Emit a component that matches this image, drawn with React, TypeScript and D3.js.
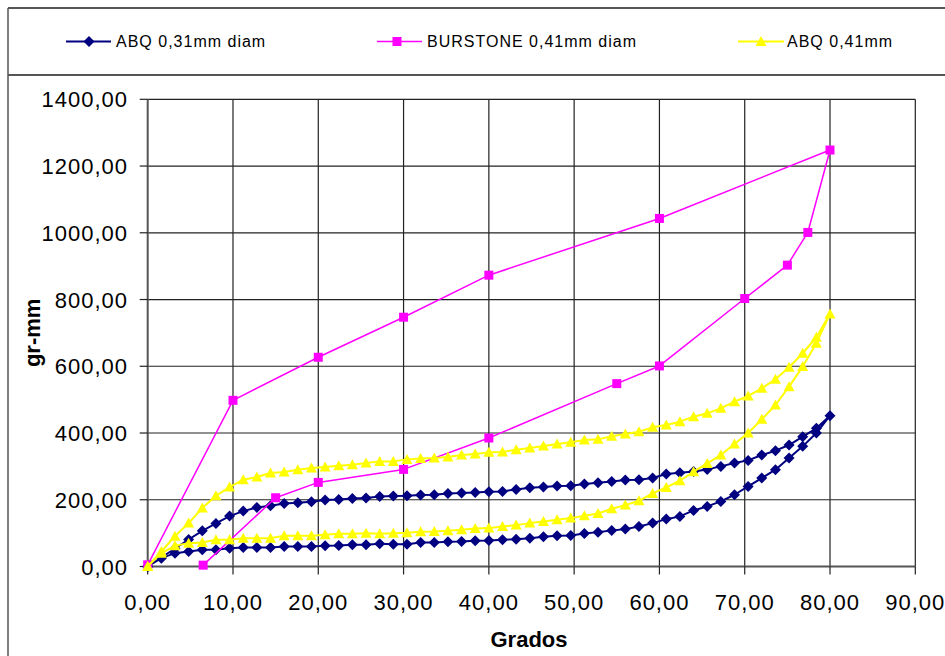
import React from "react";
import * as d3 from "d3";

const angles = [0, 1.6, 3.2, 4.8, 6.4, 8, 9.6, 11.2, 12.8, 14.4, 16, 17.6, 19.2, 20.8, 22.4, 24, 25.6, 27.2, 28.8, 30.4, 32, 33.6, 35.2, 36.8, 38.4, 40, 41.6, 43.2, 44.8, 46.4, 48, 49.6, 51.2, 52.8, 54.4, 56, 57.6, 59.2, 60.8, 62.4, 64, 65.6, 67.2, 68.8, 70.4, 72, 73.6, 75.2, 76.8, 78.4, 80];

const abq31Load = [0, 27, 54, 81, 107, 129, 151, 166, 177, 182, 189, 191, 194, 199, 201, 204, 205, 210, 211, 212, 214, 215, 219, 220, 222, 224, 225, 231, 236, 238, 241, 242, 247, 251, 255, 259, 260, 265, 277, 281, 285, 291, 300, 310, 318, 334, 347, 364, 389, 414, 452];
const abq31Unload = [0, 25, 40, 45, 50, 50, 55, 57, 57, 57, 60, 60, 60, 62, 63, 65, 65, 68, 67, 67, 72, 72, 74, 75, 77, 78, 80, 82, 85, 89, 92, 93, 99, 103, 108, 112, 120, 130, 142, 150, 168, 180, 195, 215, 240, 265, 290, 325, 360, 400, 452];

const abq41Load = [0, 45, 91, 130, 175, 212, 238, 260, 268, 280, 283, 290, 295, 298, 302, 305, 310, 315, 315, 321, 324, 325, 328, 334, 337, 342, 343, 350, 355, 361, 367, 372, 379, 381, 390, 397, 404, 417, 424, 434, 449, 459, 474, 494, 511, 534, 561, 597, 639, 687, 757];
const abq41Unload = [0, 40, 62, 70, 72, 80, 80, 85, 85, 85, 92, 92, 92, 95, 98, 98, 100, 98, 100, 101, 104, 105, 107, 110, 114, 115, 120, 124, 130, 135, 140, 145, 152, 159, 173, 184, 197, 219, 237, 257, 284, 309, 334, 367, 400, 441, 484, 539, 599, 669, 757];

const burstoneX = [0, 10, 20, 30, 40, 60, 80, 77.4, 75, 70, 60, 55, 40, 30, 20, 15, 6.5];
const burstoneY = [5, 498, 627, 747, 873, 1043, 1248, 1001, 903, 803, 601, 548, 385, 291, 252, 206, 4];

const xTicks = [0, 10, 20, 30, 40, 50, 60, 70, 80, 90];
const yTicks = [0, 200, 400, 600, 800, 1000, 1200, 1400];

const legendLabels = ["ABQ 0,31mm diam", "BURSTONE 0,41mm diam", "ABQ 0,41mm"];

const FONT = "Arial, 'Liberation Sans', sans-serif";

const fmt = (v: number) => v.toFixed(2).replace(".", ",");

type Pt = [number, number];

function loop(xs: number[], a: number[], b: number[]): Pt[] {
  const fwd: Pt[] = xs.map((x, i) => [x, a[i]]);
  const back: Pt[] = xs.map((x, i) => [x, b[i]] as Pt).reverse();
  return fwd.concat(back.slice(1));
}

const diamond = "M0,-5.5L5.5,0L0,5.5L-5.5,0Z";
const square = "M-4.5,-4.5H4.5V4.5H-4.5Z";
const triangle = "M0,-5.5L5.5,4.5L-5.5,4.5Z";

export default function App() {
  const x = d3.scaleLinear().domain([0, 90]).range([147.7, 915.3]);
  const y = d3.scaleLinear().domain([0, 1400]).range([566.5, 99.3]);
  const line = d3
    .line<Pt>()
    .x((d) => x(d[0]))
    .y((d) => y(d[1]));

  const series = [
    { pts: loop(angles, abq31Load, abq31Unload), color: "#000080", width: 2, marker: diamond },
    { pts: burstoneX.map((v, i) => [v, burstoneY[i]] as Pt), color: "#FF00FF", width: 1.5, marker: square },
    { pts: loop(angles, abq41Load, abq41Unload), color: "#FFFF00", width: 2, marker: triangle },
  ];

  const legendPos = [
    { x1: 66, x2: 111, mx: 89, tx: 116 },
    { x1: 377, x2: 422, mx: 397, tx: 427 },
    { x1: 738, x2: 784, mx: 761, tx: 787 },
  ];

  return (
    <svg
      width={945}
      height={656}
      style={{ position: "absolute", left: 0, top: 0, background: "#fff" }}
      fontFamily={FONT}
    >
      <rect x={0} y={0} width={945} height={656} fill="#fff" />
      {/* chart area border */}
      <line x1={8} y1={8} x2={8} y2={656} stroke="#000" strokeWidth={1} />
      <line x1={8} y1={8} x2={945} y2={8} stroke="#555" strokeWidth={2} />
      <line x1={8} y1={75} x2={945} y2={75} stroke="#555" strokeWidth={2} />

      {/* legend */}
      {series.map((s, i) => (
        <g key={"lg" + i}>
          <line x1={legendPos[i].x1} x2={legendPos[i].x2} y1={41.5} y2={41.5} stroke={s.color} strokeWidth={s.width} />
          <path d={s.marker} transform={`translate(${legendPos[i].mx},41.5)`} fill={s.color} />
          <text x={legendPos[i].tx} y={47} fontSize={16} letterSpacing={1} fill="#000">
            {legendLabels[i]}
          </text>
        </g>
      ))}

      {/* gridlines */}
      {yTicks.filter((t) => t > 0).map((t) => (
        <line key={"gy" + t} x1={x(0)} x2={x(90)} y1={y(t)} y2={y(t)} stroke="#222" strokeWidth={1.2} />
      ))}
      {xTicks.filter((t) => t > 0).map((t) => (
        <line key={"gx" + t} x1={x(t)} x2={x(t)} y1={y(1400)} y2={y(0)} stroke="#222" strokeWidth={1.2} />
      ))}

      {/* axes */}
      <line x1={x(0)} x2={x(0)} y1={y(1400)} y2={y(0)} stroke="#555" strokeWidth={2} />
      <line x1={x(0)} x2={x(90)} y1={y(0)} y2={y(0)} stroke="#555" strokeWidth={2} />
      {yTicks.map((t) => (
        <g key={"ty" + t}>
          <line x1={x(0) - 8} x2={x(0)} y1={y(t)} y2={y(t)} stroke="#222" strokeWidth={1.2} />
          <text x={128} y={y(t) + 8} textAnchor="end" fontSize={22} letterSpacing={1} fill="#000">
            {fmt(t)}
          </text>
        </g>
      ))}
      {xTicks.map((t) => (
        <g key={"tx" + t}>
          <line x1={x(t)} x2={x(t)} y1={y(0)} y2={y(0) + 8} stroke="#222" strokeWidth={1.2} />
          <text x={x(t)} y={610} textAnchor="middle" fontSize={22} letterSpacing={1} fill="#000">
            {fmt(t)}
          </text>
        </g>
      ))}

      {/* axis titles */}
      <text x={529} y={647} textAnchor="middle" fontSize={22} fontWeight="bold" fill="#000">
        Grados
      </text>
      <text
        transform={`translate(40,${(y(0) + y(1400)) / 2}) rotate(-90)`}
        textAnchor="middle"
        fontSize={22}
        fontWeight="bold"
        fill="#000"
      >
        gr-mm
      </text>

      {/* series */}
      {series.map((s, i) => (
        <g key={"s" + i}>
          <path d={line(s.pts) || ""} fill="none" stroke={s.color} strokeWidth={s.width} strokeLinejoin="round" />
          {s.pts.map((p, j) => (
            <path key={j} d={s.marker} transform={`translate(${x(p[0])},${y(p[1])})`} fill={s.color} />
          ))}
        </g>
      ))}
    </svg>
  );
}
